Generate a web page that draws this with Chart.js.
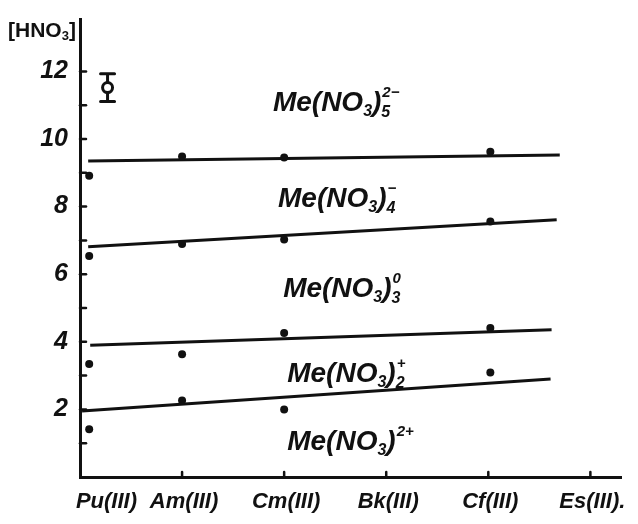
<!DOCTYPE html>
<html>
<head>
<meta charset="utf-8">
<script src="https://cdn.jsdelivr.net/npm/chart.js@4/dist/chart.umd.min.js"></script>
<style>
  html, body { margin: 0; padding: 0; background: #fff; }
  #wrap { width: 638px; height: 524px; }
</style>
</head>
<body>
<div id="wrap"><canvas id="c" width="638" height="524"></canvas></div>
<script>
// elements on the x axis
const elements = ['Pu(III)', 'Am(III)', 'Cm(III)', 'Bk(III)', 'Cf(III)', 'Es(III).']
const yTicks = [2, 4, 6, 8, 10, 12]

// measured points, x = element position
const pointX = [0.09, 1, 2, 4.02]
const pts5 = [8.91, 9.48, 9.45, 9.62]
const pts4 = [6.54, 6.89, 7.03, 7.56]
const pts3 = [3.34, 3.63, 4.26, 4.41]
const pts2 = [1.41, 2.26, 2.00, 3.09]

// boundary lines between species (start, end)
const line54X = [0.08, 4.70], line54Y = [9.35, 9.53]
const line43X = [0.08, 4.67], line43Y = [6.81, 7.61]
const line32X = [0.10, 4.62], line32Y = [3.90, 4.36]
const line21X = [0.02, 4.61], line21Y = [1.95, 2.90]

// typical error bar
const errX = 0.27, errY = 11.52, errHalf = 0.41

// species labels: subscript, charge, x, baseline y (data units)
const species = [
  { n: '5', q: '2\u2212', x: 1.89, y: 10.82 },
  { n: '4', q: '\u2212', x: 1.94, y: 7.98 },
  { n: '3', q: '0', x: 1.99, y: 5.32 },
  { n: '2', q: '+', x: 2.03, y: 2.80 },
  { n: '', q: '2+', x: 2.03, y: 0.80 },
]

const INK = '#111'
const HAND = '"Liberation Sans Narrow", "Liberation Sans", sans-serif'

const toXY = (xs, ys) => xs.map((x, i) => ({ x, y: ys[i] }))

function ptsDs(ys) {
  return { data: toXY(pointX, ys), showLine: false, pointRadius: 4, backgroundColor: INK, borderColor: INK, borderWidth: 0 }
}
function lineDs(xs, ys) {
  return { data: toXY(xs, ys), showLine: true, pointRadius: 0, borderColor: INK, borderWidth: 3 }
}

const extras = {
  id: 'extras',
  beforeDraw(chart) {
    const ctx = chart.ctx
    ctx.save()
    ctx.fillStyle = '#fff'
    ctx.fillRect(0, 0, chart.width, chart.height)
    ctx.restore()
  },
  afterDatasetsDraw(chart) {
    const { ctx, scales: { x, y } } = chart
    ctx.save()
    ctx.strokeStyle = INK
    ctx.fillStyle = INK
    ctx.lineCap = 'round'

    // inward tick stubs
    ctx.lineWidth = 2.5
    const x0 = x.getPixelForValue(0)
    for (let v = 1; v <= 12; v++) {
      const py = y.getPixelForValue(v)
      ctx.beginPath(); ctx.moveTo(x0, py); ctx.lineTo(x0 + 6, py); ctx.stroke()
    }
    const y0 = y.getPixelForValue(0)
    for (let i = 1; i < elements.length; i++) {
      const px = x.getPixelForValue(i)
      ctx.beginPath(); ctx.moveTo(px, y0); ctx.lineTo(px, y0 - 5); ctx.stroke()
    }

    // error bar
    const ex = x.getPixelForValue(errX)
    const eTop = y.getPixelForValue(errY + errHalf)
    const eBot = y.getPixelForValue(errY - errHalf)
    const eMid = y.getPixelForValue(errY)
    ctx.lineWidth = 3
    ctx.beginPath()
    ctx.moveTo(ex, eTop); ctx.lineTo(ex, eMid - 5)
    ctx.moveTo(ex, eMid + 5); ctx.lineTo(ex, eBot)
    ctx.moveTo(ex - 7, eTop); ctx.lineTo(ex + 7, eTop)
    ctx.moveTo(ex - 7, eBot); ctx.lineTo(ex + 7, eBot)
    ctx.stroke()
    ctx.beginPath(); ctx.arc(ex, eMid, 5, 0, Math.PI * 2); ctx.stroke()

    // species labels
    ctx.textBaseline = 'alphabetic'
    ctx.textAlign = 'left'
    species.forEach(s => {
      let px = x.getPixelForValue(s.x)
      const base = y.getPixelForValue(s.y)
      const part = (t, size, dy) => {
        ctx.font = `italic bold ${size}px ${HAND}`
        ctx.fillText(t, px, base + dy)
        px += ctx.measureText(t).width
      }
      part('Me(NO', 28, 0)
      part('3', 16, 5)
      part(')', 28, 0)
      const subStart = px
      if (s.n) part(s.n, 16, 6)
      px = subStart + 1
      part(s.q, 15, -14)
    })

    // y axis title
    let tx = 8
    const ty = 37
    const tpart = (t, size, dy) => {
      ctx.font = `bold ${size}px ${HAND}`
      ctx.fillText(t, tx, ty + dy)
      tx += ctx.measureText(t).width
    }
    tpart('[HNO', 21, 0)
    tpart('3', 13, 3)
    tpart(']', 21, 0)

    ctx.restore()
  }
}

new Chart(document.getElementById('c'), {
  type: 'scatter',
  data: {
    datasets: [
      ptsDs(pts5), ptsDs(pts4), ptsDs(pts3), ptsDs(pts2),
      lineDs(line54X, line54Y), lineDs(line43X, line43Y),
      lineDs(line32X, line32Y), lineDs(line21X, line21Y),
    ]
  },
  options: {
    responsive: false,
    animation: false,
    events: [],
    layout: { padding: { top: 4, right: 17, left: 0, bottom: 0 }, autoPadding: false },
    plugins: { legend: { display: false }, tooltip: { enabled: false } },
    scales: {
      x: {
        type: 'linear', min: 0, max: 5.3,
        afterBuildTicks: s => { s.ticks = elements.map((_, i) => ({ value: i })) },
        afterFit: s => { s.height = 47 },
        grid: { display: false },
        border: { display: true, color: INK, width: 3 },
        ticks: {
          // Pu label sits right of the axis corner in the original
          callback: v => (v === 0 ? '        ' : '') + (elements[v] ?? ''),
          color: INK, padding: 4, labelOffset: 2, maxRotation: 0, autoSkip: false,
          font: { family: HAND, size: 22, weight: 'bold', style: 'italic' },
        },
      },
      y: {
        type: 'linear', min: 0, max: 13.55,
        afterBuildTicks: s => { s.ticks = yTicks.map(v => ({ value: v })) },
        afterFit: s => { s.width = 80 },
        grid: { display: false },
        border: { display: true, color: INK, width: 3 },
        ticks: {
          color: INK, padding: 4,
          font: { family: HAND, size: 25, weight: 'bold', style: 'italic' },
        },
      },
    },
  },
  plugins: [extras],
})
</script>
</body>
</html>
